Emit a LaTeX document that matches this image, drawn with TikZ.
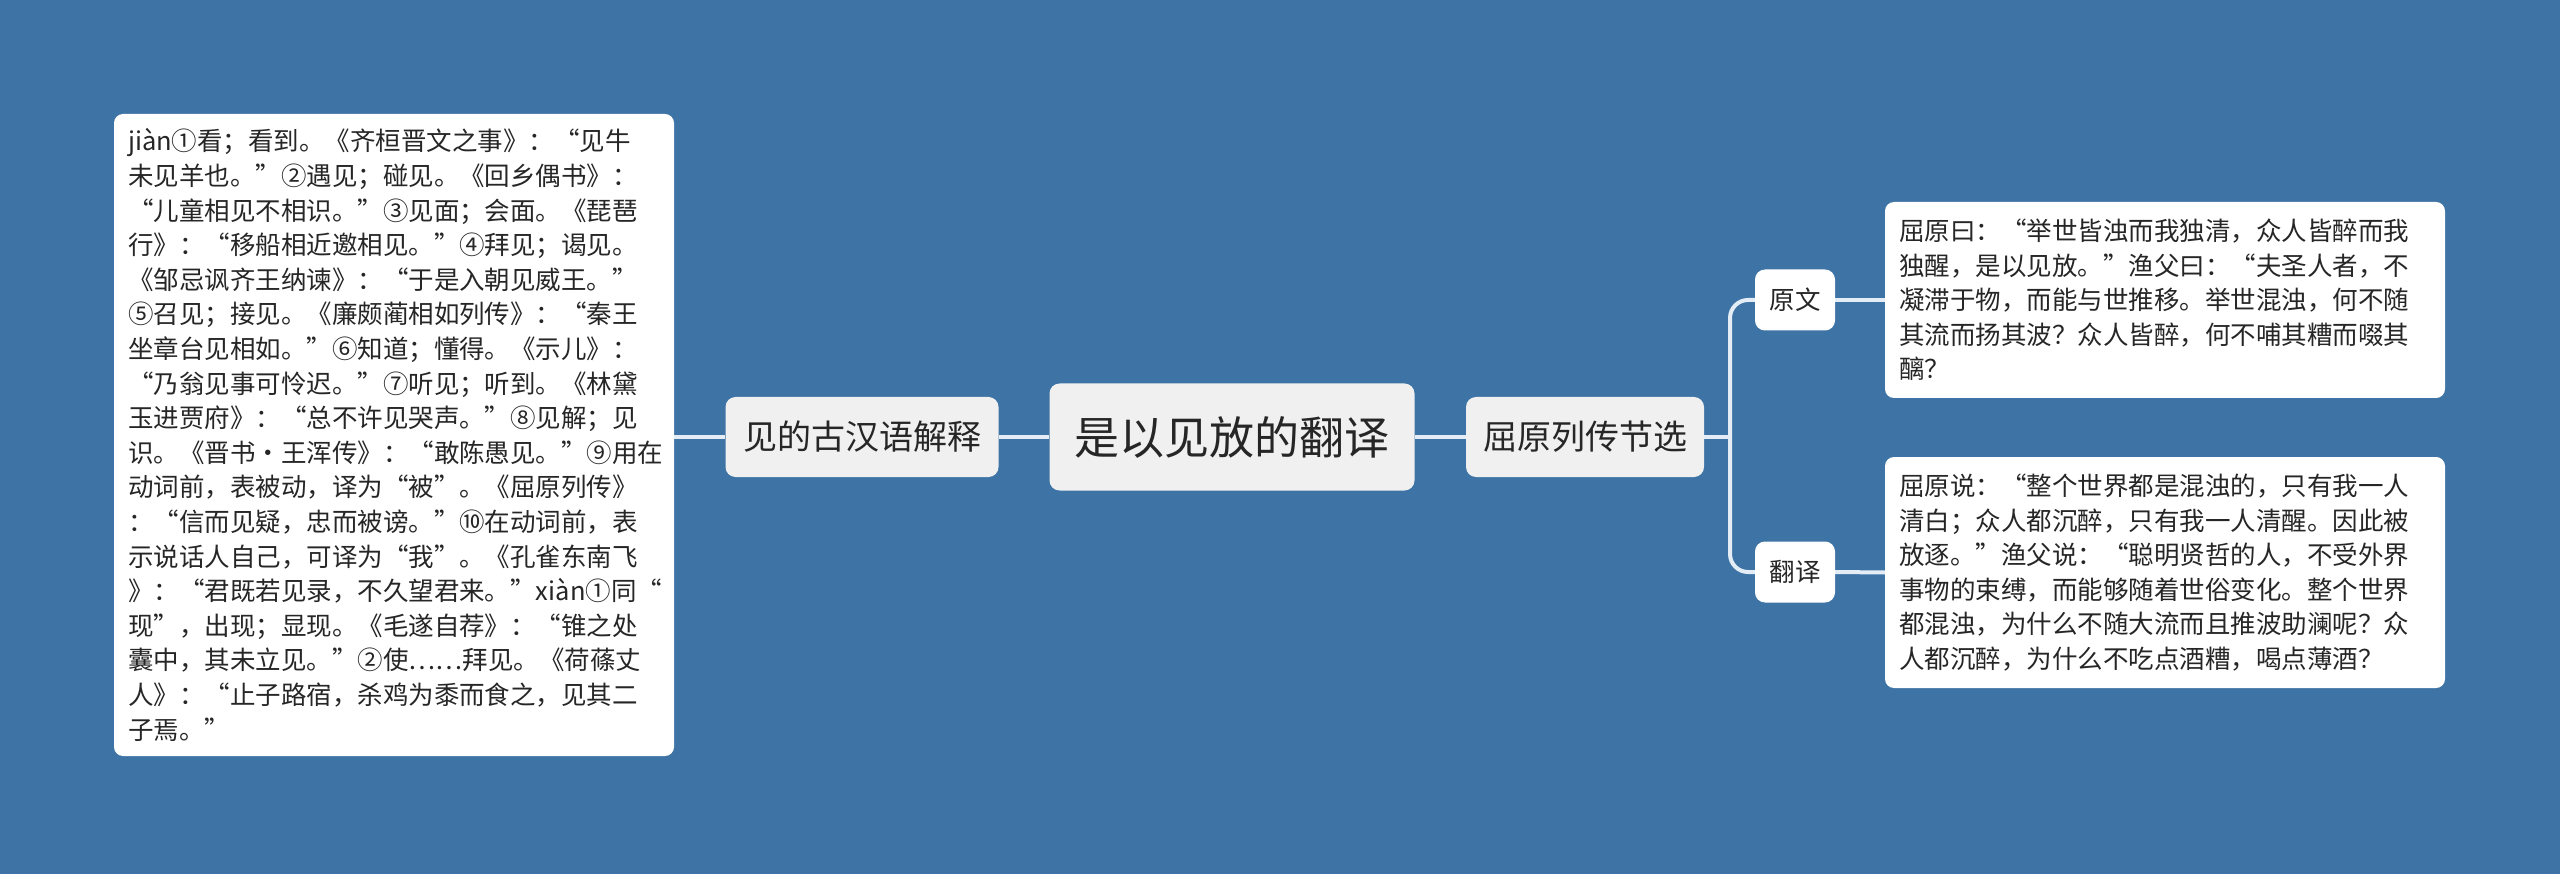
\documentclass[tikz,border=0pt]{standalone}
\usepackage{fontspec}
\setmainfont{Noto Sans CJK SC}
\definecolor{bgblue}{HTML}{3D73A5}
\definecolor{linec}{HTML}{E4EDF6}
\definecolor{midfill}{HTML}{F0F0F0}
\definecolor{txt}{HTML}{262626}
\tikzset{
  conn/.style={draw=linec, line width=4pt},
  textbox/.style={draw=none, fill=white, rounded corners=9pt, text=txt, align=left,
    inner xsep=14pt, inner ysep=0pt, font=\fontsize{25.5}{34.6}\selectfont},
  midbox/.style={draw=none, fill=midfill, rounded corners=10pt, text=txt, inner sep=0pt,
    font=\fontsize{34}{40}\selectfont},
  smallbox/.style={draw=none, fill=white, rounded corners=10pt, text=txt, inner sep=0pt,
    minimum width=80pt, minimum height=61pt, font=\fontsize{25.5}{30}\selectfont},
}
\begin{document}
\begin{tikzpicture}[x=1pt,y=-1pt]
\fill[bgblue] (0,0) rectangle (2560,874);
\useasboundingbox (0,0) rectangle (2560,874);

\node[textbox, text width=532pt, minimum height=642pt] (lefttext) at (394,435) {%
jiàn①看；看到。《齐桓晋文之事》：“见牛\\
未见羊也。”②遇见；碰见。《回乡偶书》：\\
“儿童相见不相识。”③见面；会面。《琵琶\\
行》：“移船相近邀相见。”④拜见；谒见。\\
《邹忌讽齐王纳谏》：“于是入朝见威王。”\\
⑤召见；接见。《廉颇蔺相如列传》：“秦王\\
坐章台见相如。”⑥知道；懂得。《示儿》：\\
“乃翁见事可怜迟。”⑦听见；听到。《林黛\\
玉进贾府》：“总不许见哭声。”⑧见解；见\\
识。《晋书·王浑传》：“敢陈愚见。”⑨用在\\
动词前，表被动，译为“被”。《屈原列传》\\
：“信而见疑，忠而被谤。”⑩在动词前，表\\
示说话人自己，可译为“我”。《孔雀东南飞\\
》：“君既若见录，不久望君来。”xiàn①同“\\
现”，出现；显现。《毛遂自荐》：“锥之处\\
囊中，其未立见。”②使……拜见。《荷蓧丈\\
人》：“止子路宿，杀鸡为黍而食之，见其二\\
子焉。”};

\node[midbox, minimum width=273pt, minimum height=80pt] (jieshi) at (862,437) {见的古汉语解释};
\node[midbox, minimum width=365pt, minimum height=107pt, font=\fontsize{45}{50}\selectfont] (root) at (1232,437) {是以见放的翻译};
\node[midbox, minimum width=238pt, minimum height=80pt] (quyuan) at (1585,437) {屈原列传节选};

\node[smallbox] (yuanwen) at (1795,300) {原文};
\node[smallbox] (fanyi) at (1795,572) {翻译};

\node[textbox, text width=532pt, minimum height=196pt] (box1) at (2165,300) {%
屈原曰：“举世皆浊而我独清，众人皆醉而我\\
独醒，是以见放。”渔父曰：“夫圣人者，不\\
凝滞于物，而能与世推移。举世混浊，何不随\\
其流而扬其波？众人皆醉，何不哺其糟而啜其\\
醨？};

\node[textbox, text width=532pt, minimum height=231pt] (box2) at (2165,572.5) {%
屈原说：“整个世界都是混浊的，只有我一人\\
清白；众人都沉醉，只有我一人清醒。因此被\\
放逐。”渔父说：“聪明贤哲的人，不受外界\\
事物的束缚，而能够随着世俗变化。整个世界\\
都混浊，为什么不随大流而且推波助澜呢？众\\
人都沉醉，为什么不吃点酒糟，喝点薄酒？};

\coordinate (bx) at (1730,437);
\draw[conn] (lefttext.east |- jieshi.west) -- (jieshi.west);
\draw[conn] (jieshi.east) -- (root.west);
\draw[conn] (root.east) -- (quyuan.west);
\draw[conn] (quyuan.east) -- (bx);
\draw[conn, rounded corners=18pt] (yuanwen.west) -| (bx) |- (fanyi.west);
\draw[conn] (yuanwen.east) -- (box1.west);
\draw[conn] (fanyi.east) -- (box2.west);
\end{tikzpicture}
\end{document}
